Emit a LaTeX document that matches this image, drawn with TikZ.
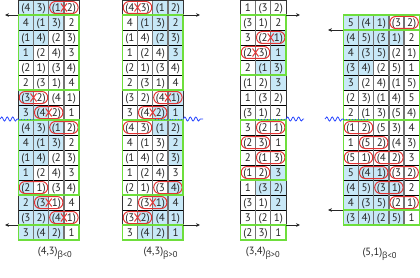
\documentclass[tikz,border=0pt]{standalone}
\usepackage{fontspec}
\setmainfont{PT Sans}
\newfontfamily\grk{Open Sans}
\usetikzlibrary{arrows.meta,decorations.pathmorphing}
\definecolor{cellblue}{RGB}{200,232,247}
\definecolor{gboxc}{RGB}{110,222,60}
\definecolor{ovred}{RGB}{228,52,52}
\definecolor{waveblue}{RGB}{40,70,255}
\newcommand\cw{15.2}
\newcommand\rh{15}
\newcommand\lp{(}
\newcommand\rp{)}
\newcommand\cellrow[3]{\foreach \t [count=\c] in {#3} {\node[cell] (#1-#2-\c) at ({\tx+(\c-0.5)*\cw},{\ty+(#2-0.5)*\rh}) {\t};}}
\newcommand\bl[3]{\fill[cellblue] ({\tx+(#2-1)*\cw},{\ty+(#1-1)*\rh}) rectangle ({\tx+#3*\cw},{\ty+#1*\rh});}
\newcommand\gridt[3]{%
  \foreach \i in {0,...,#2} {\draw[hline] ({\tx},{\ty+\i*\rh}) -- ({\tx+#1*\cw},{\ty+\i*\rh});}
  \foreach \j in {1,...,#3} {\draw[vline] ({\tx+\j*\cw},{\ty}) -- ({\tx+\j*\cw},{\ty+#2*\rh});}
  \draw[outer] ({\tx},{\ty}) rectangle ({\tx+#1*\cw},{\ty+#2*\rh});}
\newcommand\gb[3]{\draw[gbox] ({\tx},{\ty+(#2-1)*\rh}) rectangle ({\tx+#1*\cw},{\ty+#3*\rh});}
\newcommand\ov[2]{\draw[ovl] ({\tx+(#2-1)*\cw+1},{\ty+(#1-0.5)*\rh-6}) rectangle ({\tx+(#2+1)*\cw-1},{\ty+(#1-0.5)*\rh+6});}
\newcommand\xx[2]{\draw[xred] ({\tx+#2*\cw-3},{\ty+(#1-0.5)*\rh-4}) -- ({\tx+#2*\cw+3},{\ty+(#1-0.5)*\rh+4})
  ({\tx+#2*\cw-3},{\ty+(#1-0.5)*\rh+4}) -- ({\tx+#2*\cw+3},{\ty+(#1-0.5)*\rh-4});}
\newcommand\tabA[1]{%
  \cellrow{#1}{1}{\lp4,3\rp,\lp1,2\rp}\cellrow{#1}{2}{4,\lp1,3\rp,2}\cellrow{#1}{3}{\lp1,4\rp,\lp2,3\rp}\cellrow{#1}{4}{1,\lp2,4\rp,3}
  \cellrow{#1}{5}{\lp2,1\rp,\lp3,4\rp}\cellrow{#1}{6}{2,\lp3,1\rp,4}\cellrow{#1}{7}{\lp3,2\rp,\lp4,1\rp}\cellrow{#1}{8}{3,\lp4,2\rp,1}
  \cellrow{#1}{9}{\lp4,3\rp,\lp1,2\rp}\cellrow{#1}{10}{4,\lp1,3\rp,2}\cellrow{#1}{11}{\lp1,4\rp,\lp2,3\rp}\cellrow{#1}{12}{1,\lp2,4\rp,3}
  \cellrow{#1}{13}{\lp2,1\rp,\lp3,4\rp}\cellrow{#1}{14}{2,\lp3,1\rp,4}\cellrow{#1}{15}{\lp3,2\rp,\lp4,1\rp}\cellrow{#1}{16}{3,\lp4,2\rp,1}}
\begin{document}
\begin{tikzpicture}[x=1pt,y=-1pt,
  cell/.style={inner sep=0pt,text height=8pt,text depth=0pt,text=black!85,font=\fontsize{11}{11}\selectfont},
  hline/.style={draw=black,line width=0.7pt},
  vline/.style={draw=black!55,line width=1.4pt},
  outer/.style={draw=black!80,line width=0.8pt},
  gbox/.style={draw=gboxc,line width=1.5pt},
  ovl/.style={draw=ovred,line width=1pt,rounded corners=5.8pt},
  xred/.style={draw=ovred,line width=1pt},
  arr/.style={draw=black!85,line width=0.6pt,-{Stealth[length=4pt,width=3.6pt]}},
  wave/.style={draw=waveblue,line width=0.8pt,decorate,decoration={snake,amplitude=2pt,segment length=5.5pt}},
  wdot/.style={draw=waveblue,line width=0.9pt,dash pattern=on 0.9pt off 2pt},
  lab/.style={inner sep=0pt,anchor=base west,text=black!85,font=\fontsize{10.5}{10.5}\selectfont}]
\useasboundingbox (0,0) rectangle (420,278);
% ---------------- table 1
\def\tx{18.3}\def\ty{0}
\bl{1}{1}{3}\bl{2}{1}{3}\bl{3}{1}{2}\bl{4}{1}{1}\bl{7}{1}{1}\bl{8}{1}{2}
\bl{9}{1}{3}\bl{10}{1}{3}\bl{11}{1}{2}\bl{12}{1}{1}\bl{13}{1}{1}\bl{14}{1}{2}\bl{15}{1}{3}\bl{16}{1}{3}
\gridt{4}{16}{3}
\tabA{a}
\ov{1}{3}\xx{1}{3}\ov{7}{1}\xx{7}{1}\ov{8}{2}\xx{8}{2}\ov{9}{3}\ov{13}{1}\ov{14}{2}\xx{14}{2}\ov{15}{3}\xx{15}{3}
\gb{4}{2}{6}\gb{4}{9}{13}\gb{4}{16}{16}
% ---------------- table 2
\def\tx{122.3}\def\ty{0}
\bl{1}{3}{4}\bl{2}{2}{4}\bl{3}{3}{4}\bl{4}{4}{4}\bl{7}{4}{4}\bl{8}{3}{4}
\bl{9}{3}{4}\bl{10}{4}{4}\bl{11}{4}{4}\bl{13}{4}{4}\bl{14}{3}{4}\bl{15}{2}{4}\bl{16}{2}{4}
\gridt{4}{16}{3}
\tabA{b}
\ov{1}{1}\xx{1}{1}\ov{7}{3}\xx{7}{3}\ov{8}{2}\xx{8}{2}\ov{9}{1}\ov{13}{3}\ov{14}{2}\xx{14}{2}\ov{15}{1}\xx{15}{1}
\gb{4}{2}{6}\gb{4}{9}{13}\gb{4}{16}{16}
% ---------------- table 3
\def\tx{240.3}\def\ty{0}
\bl{3}{3}{3}\bl{4}{3}{3}\bl{5}{2}{3}\bl{6}{3}{3}\bl{12}{3}{3}\bl{13}{2}{3}\bl{14}{3}{3}
\gridt{3}{16}{2}
\cellrow{c}{1}{1,\lp3,2\rp}\cellrow{c}{2}{\lp3,1\rp,2}\cellrow{c}{3}{3,\lp2,1\rp}\cellrow{c}{4}{\lp2,3\rp,1}
\cellrow{c}{5}{2,\lp1,3\rp}\cellrow{c}{6}{\lp1,2\rp,3}\cellrow{c}{7}{1,\lp3,2\rp}\cellrow{c}{8}{\lp3,1\rp,2}
\cellrow{c}{9}{3,\lp2,1\rp}\cellrow{c}{10}{\lp2,3\rp,1}\cellrow{c}{11}{2,\lp1,3\rp}\cellrow{c}{12}{\lp1,2\rp,3}
\cellrow{c}{13}{1,\lp3,2\rp}\cellrow{c}{14}{\lp3,1\rp,2}\cellrow{c}{15}{3,\lp2,1\rp}\cellrow{c}{16}{\lp2,3\rp,1}
\ov{3}{2}\xx{3}{2}\ov{4}{1}\xx{4}{1}\ov{9}{2}\ov{10}{1}\ov{11}{2}\ov{12}{1}
\gb{3}{2}{5}\gb{3}{9}{12}\gb{3}{16}{16}
% ---------------- table 4
\def\tx{343.3}\def\ty{15}
\bl{1}{1}{3}\bl{2}{1}{4}\bl{3}{1}{3}\bl{4}{1}{2}\bl{5}{1}{1}
\bl{11}{1}{3}\bl{12}{1}{4}\bl{13}{1}{3}\bl{14}{1}{4}
\gridt{5}{14}{4}
\cellrow{d}{1}{5,\lp4,1\rp,\lp3,2\rp}\cellrow{d}{2}{\lp4,5\rp,\lp3,1\rp,2}\cellrow{d}{3}{4,\lp3,5\rp,\lp2,1\rp}
\cellrow{d}{4}{\lp3,4\rp,\lp2,5\rp,1}\cellrow{d}{5}{3,\lp2,4\rp,\lp1,5\rp}\cellrow{d}{6}{\lp2,3\rp,\lp1,4\rp,5}
\cellrow{d}{7}{2,\lp1,3\rp,\lp5,4\rp}\cellrow{d}{8}{\lp1,2\rp,\lp5,3\rp,4}\cellrow{d}{9}{1,\lp5,2\rp,\lp4,3\rp}
\cellrow{d}{10}{\lp5,1\rp,\lp4,2\rp,3}\cellrow{d}{11}{5,\lp4,1\rp,\lp3,2\rp}\cellrow{d}{12}{\lp4,5\rp,\lp3,1\rp,2}
\cellrow{d}{13}{4,\lp3,5\rp,\lp2,1\rp}\cellrow{d}{14}{\lp3,4\rp,\lp2,5\rp,1}
\ov{1}{4}\ov{8}{1}\ov{9}{2}\ov{10}{1}\ov{10}{3}\ov{11}{2}\ov{11}{4}\ov{12}{3}\ov{13}{4}
\gb{5}{1}{1}\gb{5}{2}{7}\gb{5}{8}{13}\gb{5}{14}{14}
% ---------------- arrows
\coordinate (a1s) at (18.3,15); \coordinate (a1e) at (5,15);
\coordinate (a2s) at (18.3,225); \coordinate (a2e) at (5,225);
\coordinate (b1s) at (183.1,15); \coordinate (b1e) at (200,15);
\coordinate (b2s) at (183.1,225); \coordinate (b2e) at (200,225);
\coordinate (c1s) at (285.9,15); \coordinate (c1e) at (300,15);
\coordinate (c2s) at (285.9,225); \coordinate (c2e) at (300,225);
\coordinate (d1s) at (343.3,30); \coordinate (d1e) at (328,30);
\coordinate (d2s) at (343.3,210); \coordinate (d2e) at (328,210);
\foreach \p in {a1,a2,b1,b2,c1,c2,d1,d2} {\draw[arr] (\p s) -- (\p e);}
% ---------------- waves
\coordinate (wa0) at (0,119); \coordinate (wa1) at (18.3,119); \coordinate (wa2) at (33,119);
\coordinate (wb0) at (155,119); \coordinate (wb1) at (183.1,119); \coordinate (wb2) at (203,119);
\coordinate (wc0) at (258,119); \coordinate (wc1) at (285.9,119); \coordinate (wc2) at (304,119);
\coordinate (wd0) at (325,119); \coordinate (wd1) at (343.3,119); \coordinate (wd2) at (367,119);
\draw[wave] (wa0) -- (wa1); \draw[wdot] (wa1) -- (wa2);
\draw[wdot] (wb0) -- (wb1); \draw[wave] (wb1) -- (wb2);
\draw[wdot] (wc0) -- (wc1); \draw[wave] (wc1) -- (wc2);
\draw[wave] (wd0) -- (wd1); \draw[wdot] (wd1) -- (wd2);
% ---------------- labels
\newcommand\sub[1]{\raisebox{-3pt}{\fontsize{8.5}{8.5}\selectfont{\grk β}#1}}
\node[lab] (la) at (37.7,254) {(4,3)\sub{<0}};
\node[lab] (lb) at (143.3,254) {(4,3)\sub{>0}};
\node[lab] (lc) at (245.7,254) {(3,4)\sub{>0}};
\node[lab] (ld) at (362.3,255.5) {(5,1)\sub{<0}};
\end{tikzpicture}
\end{document}
